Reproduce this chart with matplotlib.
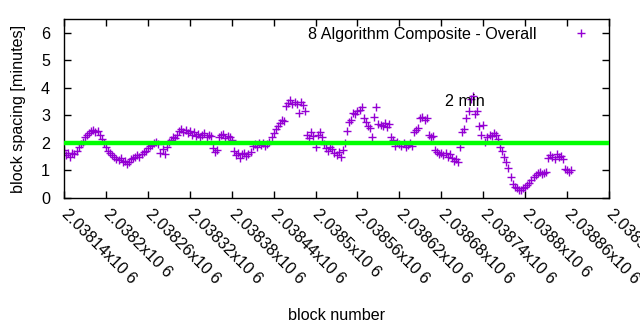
import numpy as np
import matplotlib
matplotlib.use('Agg')
import matplotlib.pyplot as plt

plt.rcParams['font.family'] = ['Liberation Sans', 'DejaVu Sans']

# block numbers: every 3rd block starting at 2038140
start_block = 2038140
block_step = 3

# block spacing [minutes]
spacing = [
    1.75, 1.55, 1.62, 1.48, 1.65, 1.58, 1.70, 1.85, 1.95, 2.05,
    2.20, 2.30, 2.35, 2.42, 2.48, 2.40, 2.45, 2.30, 2.15, 2.00,
    1.85, 1.72, 1.65, 1.55, 1.48, 1.42, 1.38, 1.45, 1.30, 1.35,
    1.22, 1.32, 1.40, 1.45, 1.50, 1.55, 1.48, 1.60, 1.68, 1.72,
    1.80, 1.88, 1.92, 1.98, 2.02, 1.95, 1.65, 1.78, 1.58, 1.85,
    2.05, 2.12, 2.20, 2.18, 2.28, 2.45, 2.52, 2.38, 2.48, 2.35,
    2.42, 2.30, 2.38, 2.25, 2.32, 2.20, 2.28, 2.35, 2.22, 2.30,
    2.25, 1.80, 1.68, 1.75, 2.20, 2.28, 2.32, 2.18, 2.25, 2.22,
    2.10, 1.72, 1.55, 1.62, 1.45, 1.58, 1.65, 1.52, 1.60, 1.68,
    1.90, 1.95, 1.85, 1.98, 1.92, 2.00, 1.88, 1.95, 2.05, 2.20,
    2.35, 2.50, 2.60, 2.72, 2.85, 2.78, 3.35, 3.45, 3.55, 3.40,
    3.50, 3.42, 3.10, 3.48, 3.38, 3.15, 2.30, 2.18, 2.40, 2.25,
    1.85, 2.30, 2.40, 2.20, 1.95, 1.80, 1.72, 1.85, 1.78, 1.65,
    1.55, 1.68, 1.50, 1.75, 2.00, 2.45, 2.75, 2.85, 3.10, 3.05,
    3.15, 3.20, 3.30, 2.90, 2.75, 2.60, 2.55, 2.20, 2.95, 3.30,
    2.70, 2.65, 2.60, 2.72, 2.58, 2.68, 2.20, 2.10, 1.90, 2.05,
    1.95, 1.90, 1.98, 1.85, 1.92, 2.00, 1.88, 2.40, 2.48, 2.55,
    2.90, 2.95, 2.85, 2.92, 2.30, 2.20, 2.25, 1.75, 1.68, 1.60,
    1.65, 1.55, 1.62, 1.50, 1.58, 1.45, 1.35, 1.40, 1.30, 1.85,
    2.40, 2.50, 2.90, 3.15, 3.60, 3.72, 3.05, 3.15, 2.60, 2.30,
    2.65, 2.05, 2.20, 2.30, 2.25, 2.35, 2.28, 2.15, 1.85, 1.70,
    1.50, 1.30, 1.10, 0.75, 0.50, 0.40, 0.35, 0.30, 0.28, 0.35,
    0.40, 0.48, 0.55, 0.65, 0.75, 0.85, 0.90, 0.95, 0.88, 0.92,
    0.95, 1.45, 1.55, 1.50, 1.42, 1.60, 1.48, 1.52, 1.40, 1.05,
    1.00, 0.95, 1.02,
]
blocks = start_block + block_step * np.arange(len(spacing))

target_minutes = 2

xtick_values = [2038140, 2038200, 2038260, 2038320, 2038380, 2038440, 2038500,
                2038560, 2038620, 2038680, 2038740, 2038800, 2038860, 2038920]
xtick_labels = ['2.03814x10 6', '2.0382x10 6', '2.03826x10 6', '2.03832x10 6',
                '2.03838x10 6', '2.03844x10 6', '2.0385x10 6', '2.03856x10 6',
                '2.03862x10 6', '2.03868x10 6', '2.03874x10 6', '2.0388x10 6',
                '2.03886x10 6', '2.03892x10 6']

fs = 11.6

fig = plt.figure(figsize=(6.4, 3.3), dpi=100)
ax = fig.add_axes([0.1, 0.4, 0.8516, 0.5424])

ax.plot(blocks, spacing, linestyle='none', marker='+', markersize=6,
        markeredgewidth=1.0, color='#9400d3',
        label='8 Algorithm Composite - Overall', zorder=2)
ax.axhline(target_minutes, color='#00ff00', linewidth=3.2, zorder=3)
ax.text(2038714, 3.5, '2 min', ha='center', va='center', fontsize=fs, zorder=4)

ax.set_xlim(2038140, 2038920)
ax.set_ylim(0, 6.5)
ax.set_yticks(range(0, 7))
ax.set_xticks(xtick_values)
ax.set_xticklabels(xtick_labels, rotation=-45, ha='left', va='center',
                   rotation_mode='anchor', fontsize=fs)
ax.tick_params(direction='in', length=5, width=1, top=True, right=True,
               labelsize=fs)
ax.tick_params(axis='y', pad=10)
ax.tick_params(axis='x', pad=10)
for sp in ax.spines.values():
    sp.set_linewidth(1)

ax.set_xlabel('block number', fontsize=fs, labelpad=15)
ax.set_ylabel('block spacing [minutes]', fontsize=fs, labelpad=11)

ax.legend(loc='upper right', frameon=False, markerfirst=False, fontsize=fs,
          handlelength=2.5, handletextpad=1.5, borderaxespad=0.1)

fig.savefig('out.png', dpi=100)
